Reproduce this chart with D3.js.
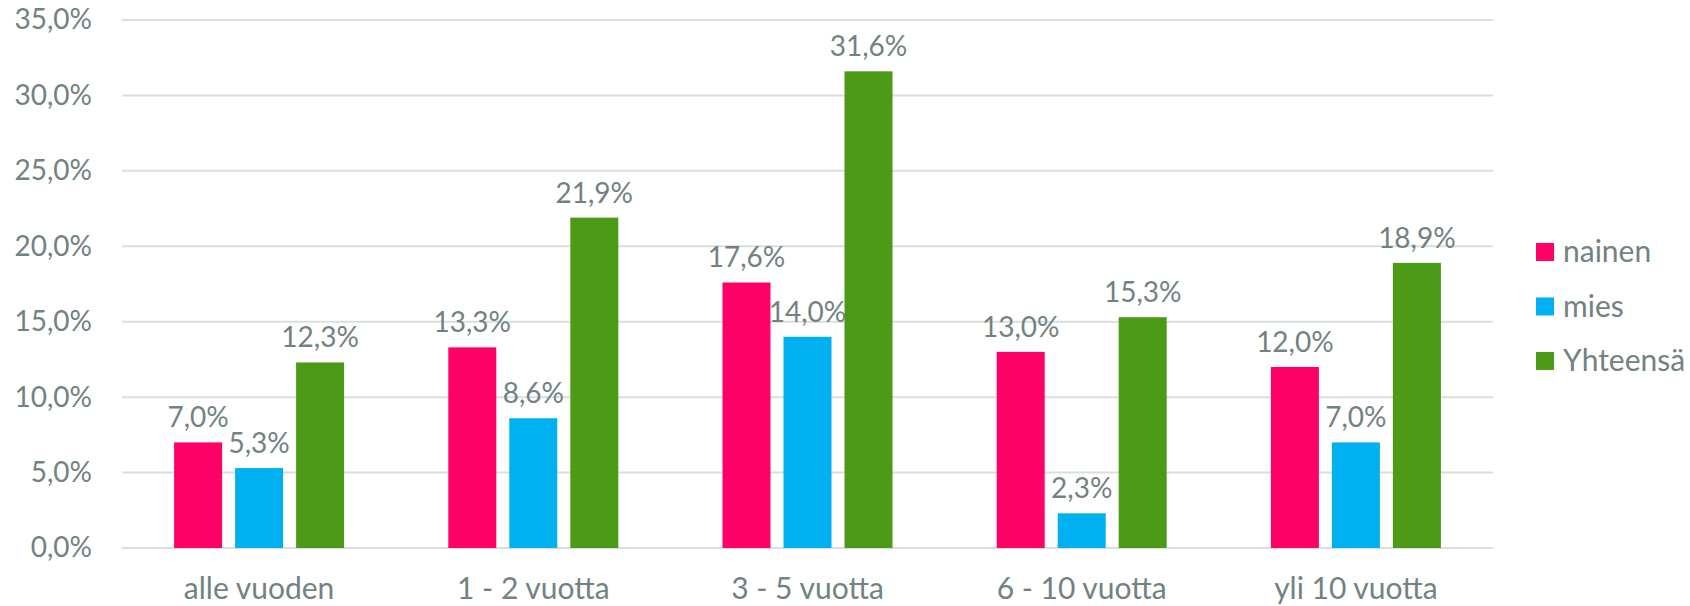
<!DOCTYPE html>
<html><head><meta charset="utf-8">
<script src="https://cdn.jsdelivr.net/npm/d3@7"></script>
<style>body{margin:0;background:#fff}svg{display:block}text{font-family:Lato,"Open Sans",sans-serif;fill:#728282}</style>
</head><body><svg id="c" width="1690" height="606"></svg>
<script>
const categories = ["alle vuoden","1 - 2 vuotta","3 - 5 vuotta","6 - 10 vuotta","yli 10 vuotta"];
const seriesNames = ["nainen","mies","Yhteensä"];
const nainen = [7.0,13.3,17.6,13.0,12.0];
const mies = [5.3,8.6,14.0,2.3,7.0];
const yhteensa = [12.3,21.9,31.6,15.3,18.9];
const yTicks = [0,5,10,15,20,25,30,35];
const colors = ["#FF0066","#00B0F0","#4C9A15"];
const series = [nainen,mies,yhteensa];

(function(){
const svg = d3.select("#c");
const pL=122,pR=1493,pT=20,pB=548;
const x0 = d3.scaleBand().domain(categories).range([pL,pR]).paddingInner(0).paddingOuter(0);
const x1 = d3.scaleBand().domain(seriesNames).range([0,170]).paddingInner(13/61).paddingOuter(0);
const y = d3.scaleLinear().domain([0,35]).range([pB,pT]);
const fmt = v => d3.format(".1f")(v).replace(".",",")+"%";

svg.append("g").selectAll("line").data(yTicks).join("line")
 .attr("x1",pL).attr("x2",pR).attr("y1",d=>y(d)).attr("y2",d=>y(d))
 .attr("stroke","#D9DEDE").attr("stroke-width",2);
const yAxis = d3.axisLeft(y).tickValues(yTicks).tickFormat(fmt).tickSize(0).tickPadding(30);
const ya = svg.append("g").attr("transform",`translate(${pL},0)`).call(yAxis);
ya.select(".domain").remove();
ya.selectAll("text").style("font-size","28px").attr("fill","#728282").attr("font-family","Lato");

seriesNames.forEach((s,si)=>{
  const g = svg.append("g");
  const bx = (i)=>x0(categories[i])+(x0.bandwidth()-170)/2+x1(s);
  g.selectAll("rect").data(series[si]).join("rect")
   .attr("x",(d,i)=>bx(i)).attr("width",x1.bandwidth())
   .attr("y",d=>y(d)).attr("height",d=>y(0)-y(d))
   .attr("fill",colors[si]);
  g.selectAll("text").data(series[si]).join("text")
   .attr("x",(d,i)=>bx(i)+x1.bandwidth()/2)
   .attr("y",d=>y(d)-15).attr("text-anchor","middle")
   .style("font-size","28px").text(fmt);
});
const xAxis = d3.axisBottom(x0).tickSize(0).tickPadding(30);
const xa = svg.append("g").attr("transform",`translate(0,${pB})`).call(xAxis);
xa.select(".domain").remove();
xa.selectAll("text").style("font-size","30px").attr("fill","#728282").attr("font-family","Lato");

const lg = svg.append("g").attr("transform","translate(1536,243)");
seriesNames.forEach((s,i)=>{
  lg.append("rect").attr("x",0).attr("y",i*54.5).attr("width",18).attr("height",18).attr("fill",colors[i]);
  lg.append("text").attr("x",27).attr("y",i*54.5+19).style("font-size","30px").text(s);
});
})();
</script></body></html>
